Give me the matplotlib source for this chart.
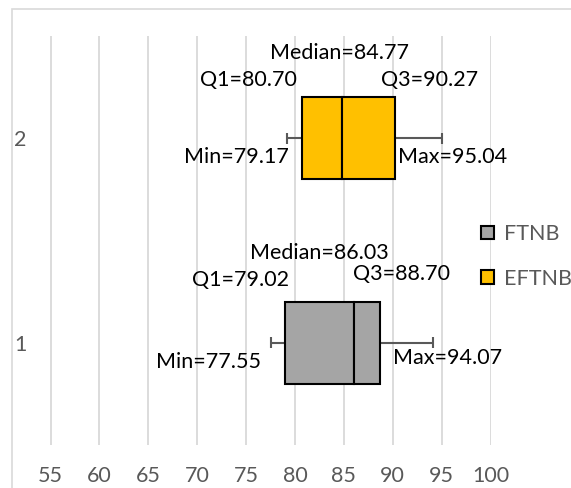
import matplotlib
matplotlib.use("Agg")
import matplotlib.pyplot as plt
from matplotlib.patches import Patch, Rectangle

plt.rcParams["font.family"] = ["Lato", "DejaVu Sans"]

# data (row 1 = FTNB at the bottom, row 2 = EFTNB at the top)
rows = [1, 2]
names = ["FTNB", "EFTNB"]
mins = [77.55, 79.17]
q1s = [79.02, 80.70]
medians = [86.03, 84.77]
q3s = [88.70, 90.27]
maxs = [94.07, 95.04]
xticks = [55, 60, 65, 70, 75, 80, 85, 90, 95, 100]

FILLS = ["#a5a5a5", "#ffc000"]
WHISK = "#595959"
GRID = "#d9d9d9"
TICK = "#595959"
FS = 15.5

W, H = 571, 488
fig = plt.figure(figsize=(W / 100, H / 100), dpi=100)
fig.patch.set_facecolor("white")
# chart-area border (top / left edges visible)
fig.add_artist(Rectangle((12 / W, -0.2), 1.5, 1.2 - 9 / H, transform=fig.transFigure,
                         fill=False, edgecolor=GRID, linewidth=1.2))

ax = fig.add_axes([31 / W, 1 - 445 / H, 459.5 / W, 409 / H])
ax.set_xlim(53, 100)
ax.set_ylim(0.5, 2.5)

box_h = 0.40
cap_h = 0.055
for r, lo, a, m, b, hi, c in zip(rows, mins, q1s, medians, q3s, maxs, FILLS):
    ax.hlines(r, lo, a, color=WHISK, linewidth=1.5, zorder=2)
    ax.hlines(r, b, hi, color=WHISK, linewidth=1.5, zorder=2)
    ax.vlines([lo, hi], r - cap_h / 2, r + cap_h / 2, color=WHISK, linewidth=1.5, zorder=2)
    ax.barh(r, m - a, left=a, height=box_h, color=c, edgecolor="black", linewidth=1.5, zorder=3)
    ax.barh(r, b - m, left=m, height=box_h, color=c, edgecolor="black", linewidth=1.5, zorder=3)

# data labels: anchored on the value, nudged by a pixel offset
def lab(txt, x, y, dx, dy, ha):
    ax.annotate(txt, (x, y), xytext=(dx, dy), textcoords="offset pixels",
                ha=ha, va="center", fontsize=FS, color="black", zorder=4)

for i, r in enumerate(rows):
    top = r + box_h / 2
    if r == 2:
        lab(f"Median={medians[i]:.2f}", medians[i], top, -2, 44, "center")
        lab(f"Q1={q1s[i]:.2f}", q1s[i], top, -5, 17, "right")
        lab(f"Q3={q3s[i]:.2f}", q3s[i], top, -14, 17, "left")
        lab(f"Min={mins[i]:.2f}", mins[i], r, 2, -19, "right")
        lab(f"Max={maxs[i]:.2f}", q3s[i], r, 3, -19, "left")
    else:
        lab(f"Median={medians[i]:.2f}", medians[i], top, -35, 49, "center")
        lab(f"Q1={q1s[i]:.2f}", q1s[i], top, 4, 22, "right")
        lab(f"Q3={q3s[i]:.2f}", q3s[i], top, -27, 28, "left")
        lab(f"Min={mins[i]:.2f}", mins[i], r, -10, -19, "right")
        lab(f"Max={maxs[i]:.2f}", q3s[i], r, 13, -15, "left")

ax.set_xticks(xticks)
ax.set_xticklabels([str(t) for t in xticks])
ax.set_yticks(rows)
ax.set_yticklabels([str(r) for r in rows])
ax.tick_params(axis="x", length=0, pad=15, labelsize=FS, labelcolor=TICK)
ax.tick_params(axis="y", length=0, pad=3, labelsize=FS, labelcolor=TICK)
ax.grid(axis="x", color=GRID, linewidth=1.3, zorder=0)
ax.set_axisbelow(True)
for s in ax.spines.values():
    s.set_visible(False)

handles = [Patch(facecolor=c, edgecolor="black", linewidth=1.5) for c in FILLS]
leg = fig.legend(handles, names, loc="center left", bbox_to_anchor=(481 / W, 1 - 256.5 / H),
                 frameon=False, fontsize=FS, handlelength=0.6, handleheight=0.6,
                 handletextpad=0.45, labelspacing=1.15, borderpad=0, borderaxespad=0)
for t in leg.get_texts():
    t.set_color(TICK)

fig.savefig("out.png", dpi=100, facecolor="white")
